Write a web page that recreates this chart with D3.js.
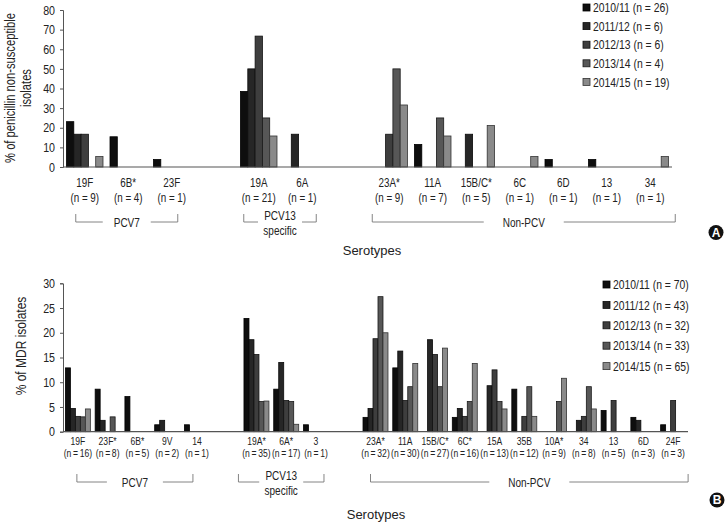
<!DOCTYPE html>
<html><head><meta charset="utf-8">
<script src="https://cdn.jsdelivr.net/npm/d3@7"></script>
<style>
body{margin:0;background:#fff}
svg text{font-family:"Liberation Sans",Arial,sans-serif;fill:#222}
</style></head>
<body><svg id="c" width="728" height="522"></svg>
<script>
// ---------- data ----------
const series = ["2010/11","2011/12","2012/13","2013/14","2014/15"];
const penN = [26,6,6,4,19];
const mdrN = [70,43,32,33,65];

const penCats = ["19F","6B*","23F","19A","6A","23A*","11A","15B/C*","6C","6D","13","34"];
const penCatN = [9,4,1,21,1,9,7,5,1,1,1,1];
const penGroupNames = ["PCV7","PCV13|specific","Non-PCV"];
const penGroupSizes = [3,2,7];
const pen201011 = [23.1,15.4,3.8,38.5,0,0,11.5,0,0,3.8,3.8,0];
const pen201112 = [16.7,0,0,50.0,16.7,0,0,16.7,0,0,0,0];
const pen201213 = [16.7,0,0,66.7,0,16.7,0,0,0,0,0,0];
const pen201314 = [0,0,0,25.0,0,50.0,25.0,0,0,0,0,0];
const pen201415 = [5.3,0,0,15.8,0,31.6,15.8,21.1,5.3,0,0,5.3];
const penTicks = [0,10,20,30,40,50,60,70,80];

const mdrCats = ["19F","23F*","6B*","9V","14","19A*","6A*","3","23A*","11A","15B/C*","6C*","15A","35B","10A*","34","13","6D","24F"];
const mdrCatN = [16,8,5,2,1,35,17,1,32,30,27,16,13,12,9,8,5,3,3];
const mdrGroupNames = ["PCV7","PCV13|specific","Non-PCV"];
const mdrGroupSizes = [5,3,11];
const mdr201011 = [12.9,8.6,7.1,1.4,1.4,22.9,8.6,1.4,2.9,12.9,0,2.9,0,8.6,0,0,4.3,2.9,1.4];
const mdr201112 = [4.7,2.3,0,2.3,0,18.6,14.0,0,4.7,16.3,18.6,4.7,9.3,0,0,2.3,0,2.3,0];
const mdr201213 = [3.1,0,0,0,0,15.6,6.3,0,18.8,6.3,15.6,3.1,12.5,3.1,0,3.1,6.3,0,6.3];
const mdr201314 = [3.0,3.0,0,0,0,6.1,6.1,0,27.3,9.1,9.1,6.1,6.1,9.1,6.1,9.1,0,0,0];
const mdr201415 = [4.6,0,0,0,0,6.2,1.5,0,20.0,13.8,16.9,13.8,4.6,3.1,10.8,4.6,0,0,0];
const mdrTicks = [0,5,10,15,20,25,30];

// ---------- style ----------
const fills = ["#0e0e0e","#262626","#3e3e3e","#575757","#8a8a8a"];
const strokes = ["#000","#0a0a0a","#111","#1a1a1a","#333"];
const svg = d3.select("#c");

// condensed text through a horizontal scale transform
function ctext(g, x, y, txt, size, f, anchor, rot){
  return g.append("text")
    .attr("transform",`translate(${x},${y})${rot?" rotate(-90)":""} scale(${f},1)`)
    .attr("text-anchor",anchor||"middle").style("font-size",size+"px").text(txt);
}

function panel(cfg){
  const g = svg.append("g");
  const domain = [];
  let k = 0;
  cfg.groupSizes.forEach((s,gi)=>{
    for(let i=0;i<s;i++){ domain.push(cfg.cats[k++]); }
    if(gi<cfg.groupSizes.length-1) domain.push("__gap"+gi);
  });
  const x = d3.scaleBand().domain(domain).range([cfg.x0,cfg.x1]).padding(0);
  const x1 = d3.scaleBand().domain(series).range([0,x.bandwidth()]).paddingInner(0).paddingOuter(0.48);
  const y = d3.scaleLinear().domain([0,cfg.ymax]).range([cfg.yb,cfg.yt]);

  const ya = d3.axisLeft(y).tickValues(cfg.ticks).tickSize(3).tickPadding(5);
  const yg = g.append("g").attr("transform",`translate(${cfg.x0},0)`).call(ya);
  yg.select(".domain").attr("stroke","#555");
  yg.selectAll(".tick line").attr("stroke","#555");
  yg.selectAll(".tick text").style("font-size","13px").attr("fill","#222")
    .style("font-family","Liberation Sans, Arial, sans-serif")
    .each(function(){
      const t = d3.select(this), xx = +t.attr("x");
      t.attr("x",null).attr("transform",`translate(${xx},0) scale(0.82,1)`);
    });

  const rows = cfg.values.map((vals,si)=>vals.map((v,ci)=>({s:series[si],si,c:cfg.cats[ci],v})));
  rows.forEach(r=>{
    g.selectAll(null).data(r.filter(d=>d.v>0)).enter().append("rect")
      .attr("x",d=>x(d.c)+x1(d.s)).attr("width",x1.bandwidth())
      .attr("y",d=>y(d.v)).attr("height",d=>y(0)-y(d.v))
      .attr("fill",d=>fills[d.si]).attr("stroke",d=>strokes[d.si]).attr("stroke-width",0.8);
  });

  g.append("line").attr("x1",cfg.x0).attr("x2",cfg.x1).attr("y1",y(0)).attr("y2",y(0))
    .attr("stroke","#555").attr("stroke-width",1.2);

  cfg.cats.forEach((c,i)=>{
    const cx = x(c)+x.bandwidth()/2;
    ctext(g, cx, cfg.labY, c, cfg.labFs, cfg.labCond);
    ctext(g, cx, cfg.labY+cfg.labDy, cfg.nfmt(cfg.catN[i]), cfg.labFs, cfg.labCond);
  });

  let start = 0;
  cfg.groupSizes.forEach((s,gi)=>{
    const first = cfg.cats[start], last = cfg.cats[start+s-1];
    start += s;
    const off = cfg.brOff[gi];
    const L = x(first)+x.bandwidth()/2+off[0];
    const R = x(last)+x.bandwidth()/2+off[1];
    const mid = (L+R)/2;
    const lines = cfg.groupNames[gi].split("|");
    const bt = cfg.brY-8, by = cfg.brY;
    const gap = off[2];
    const path = `M${L},${bt}V${by}H${mid-gap}M${mid+gap},${by}H${R}V${bt}`;
    g.append("path").attr("d",path).attr("fill","none").attr("stroke","#777").attr("stroke-width",0.9);
    lines.forEach((t,li)=>{
      ctext(g, mid, (lines.length>1? by-2+li*15 : by+4.5), t, 12.5, 0.8);
    });
  });

  cfg.ytitle.forEach((t,i)=>{
    ctext(g, cfg.ytX[i], cfg.ytY, t, cfg.ytFs, 0.8, "middle", true);
  });
  g.append("text").attr("x",cfg.xtX).attr("y",cfg.xtY).attr("text-anchor","middle")
    .style("font-size","13px").text("Serotypes");

  series.forEach((s,i)=>{
    const ly = cfg.legY + i*cfg.legDy;
    g.append("rect").attr("x",cfg.legX).attr("y",ly-3.5).attr("width",7).attr("height",7)
      .attr("fill",fills[i]).attr("stroke",strokes[i]).attr("stroke-width",0.8);
    ctext(g, cfg.legX+10, ly+4.6, `${s} (n = ${cfg.legN[i]})`, 13, 0.8, "start");
  });

  g.append("circle").attr("cx",cfg.badge[0]).attr("cy",cfg.badge[1]).attr("r",7.5).attr("fill","#111");
  g.append("text").attr("x",cfg.badge[0]).attr("y",cfg.badge[1]+4.3).attr("text-anchor","middle")
    .style("font-size","12px").style("font-weight","bold")
    .style("fill","#fff").text(cfg.letter);
}

panel({
  cats:penCats, catN:penCatN, groupSizes:penGroupSizes, groupNames:penGroupNames,
  values:[pen201011,pen201112,pen201213,pen201314,pen201415],
  x0:63, x1:672, yt:10, yb:167, ymax:80, ticks:penTicks,
  labY:187, labDy:14.5, labFs:12, labCond:0.82, nfmt:n=>`(n = ${n})`,
  brY:222, brOff:[[-9,6,24],[-15,14,22],[-17,25,40]],
  ytitle:["% of penicillin non-susceptible","isolates"], ytX:[15,31], ytY:88, ytFs:14,
  xtX:372, xtY:255,
  legX:583, legY:7.5, legDy:18.6, legN:penN,
  badge:[716,232.5], letter:"A"
});

panel({
  cats:mdrCats, catN:mdrCatN, groupSizes:mdrGroupSizes, groupNames:mdrGroupNames,
  values:[mdr201011,mdr201112,mdr201213,mdr201314,mdr201415],
  x0:63, x1:688, yt:283.3, yb:431.7, ymax:30, ticks:mdrTicks,
  labY:445, labDy:11.5, labFs:11, labCond:0.78, nfmt:n=>`(n\u2009=\u2009${n})`,
  brY:482, brOff:[[-1,-4,28],[-18,8,22],[-5,15,40]],
  ytitle:["% of MDR isolates"], ytX:[26], ytY:346, ytFs:15,
  xtX:376, xtY:519,
  legX:603, legY:284.5, legDy:20.4, legN:mdrN,
  badge:[717,500], letter:"B"
});
</script></body></html>
